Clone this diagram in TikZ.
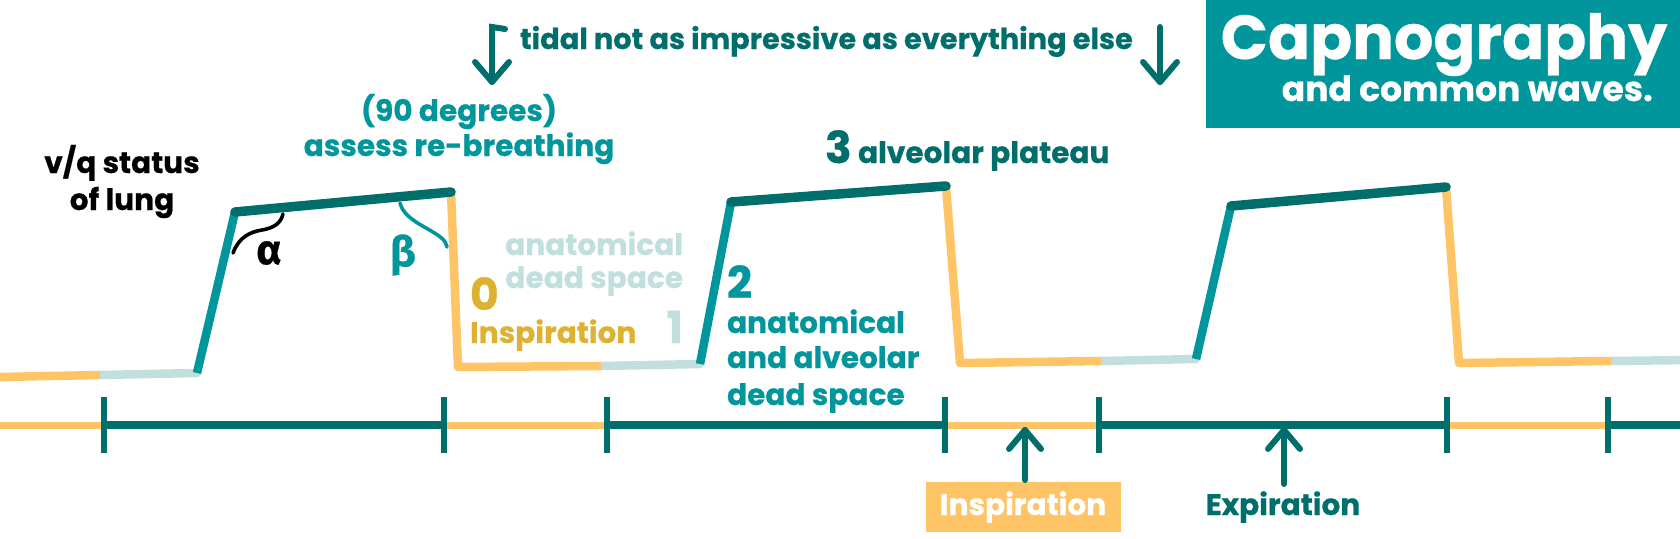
\documentclass[tikz,border=0pt]{standalone}
\usepackage{fontspec}
\setmainfont{Poppins}[BoldFeatures={FakeBold=0.6}]
\newfontfamily\grk{Fira Sans}[BoldFeatures={FakeBold=0.6}]
\definecolor{tealA}{HTML}{00969B}
\definecolor{tealD}{HTML}{006E6B}
\definecolor{orng}{HTML}{FFC466}
\definecolor{pale}{HTML}{C1DFDD}
\definecolor{ylw}{HTML}{DDB232}
\begin{document}
\begin{tikzpicture}[x=1pt,y=-1pt,
  lab/.style={inner sep=0pt, outer sep=0pt, font=\bfseries\fontsize{29.6}{36}\selectfont},
  num/.style={inner sep=0pt, outer sep=0pt, font=\bfseries\fontsize{44}{50}\selectfont},
  grk/.style={inner sep=0pt, outer sep=0pt, font=\grk\bfseries\fontsize{42}{46}\selectfont},
  grl/.style={line width=8.5pt, pale, line cap=round},
  orl/.style={line width=8.5pt, orng, line join=round, line cap=butt},
  risel/.style={line width=8.5pt, tealA, line cap=butt},
  platl/.style={line width=9.5pt, tealD, line cap=round},
  tlo/.style={line width=7pt, orng},
  tld/.style={line width=8pt, tealD},
  tck/.style={line width=5.5pt, tealD},
  arr/.style={line width=6pt, tealD, line cap=round, line join=round},
  angl/.style={line width=3.6pt, line cap=round}]
\useasboundingbox (0,0) rectangle (1680,538);

% title
\node[fill=tealA, minimum width=474pt, minimum height=128pt, inner sep=0pt, anchor=north west] (titlebox) at (1206,0) {};
\node[anchor=base, text=white, inner sep=0pt, font=\bfseries\fontsize{62}{62}\selectfont] (cap) at (1444,59) {Capnography};
\node[anchor=base east, text=white, inner sep=0pt, font=\bfseries\fontsize{34.5}{34}\selectfont] (sub) at (1653,101) {and common waves.};

% top note and arrows
\node[lab, text=tealD, anchor=base west, font=\bfseries\fontsize{28.8}{34}\selectfont] (tidal) at (520,49) {tidal not as impressive as everything else};
\coordinate (hk) at (505,29);
\coordinate (ta1) at (492,27);
\coordinate (tb1) at (492,82);
\draw[arr, line join=miter] (hk) -- (ta1) -- (tb1);
\draw[arr] (tb1) ++(-17,-20) -- (tb1) -- ++(17,-20);
\coordinate (ta2) at (1160,27);
\coordinate (tb2) at (1160,82);
\draw[arr] (ta2) -- (tb2);
\draw[arr] (tb2) ++(-17,-20) -- (tb2) -- ++(17,-20);

% waveform points
\coordinate (p0) at (0,377);
\coordinate (c1) at (100,375);
\coordinate (r1b) at (197,373);
\coordinate (r1t) at (235,212);
\coordinate (f1t) at (451,192);
\coordinate (f1b) at (458,367);
\coordinate (c2) at (601,366);
\coordinate (r2b) at (700,364);
\coordinate (r2t) at (731,202);
\coordinate (f2t) at (946,186);
\coordinate (f2b) at (960,363);
\coordinate (c3) at (1101,361);
\coordinate (r3b) at (1196,359);
\coordinate (r3t) at (1231,206);
\coordinate (f3t) at (1446,187);
\coordinate (f3b) at (1459,363);
\coordinate (c4) at (1611,361);
\coordinate (pe) at (1690,360);

\draw[grl] (c1) -- (r1b);
\draw[grl] (c2) -- (r2b);
\draw[grl] (c3) -- (r3b);
\draw[grl] (c4) -- (pe);
\draw[orl] (p0) -- (c1);
\draw[orl] (f1t) -- (f1b) -- (c2);
\draw[orl] (f2t) -- (f2b) -- (c3);
\draw[orl] (f3t) -- (f3b) -- (c4);
\draw[risel] (r1b) -- (r1t);
\draw[risel] (r2b) -- (r2t);
\draw[risel] (r3b) -- (r3t);
\draw[platl] (r1t) -- (f1t);
\draw[platl] (r2t) -- (f2t);
\draw[platl] (r3t) -- (f3t);

% angle marks
\draw[angl, black] (233,253) .. controls (239,237) and (250,232) .. (262,230) .. controls (274,228) and (281,223) .. (283,214);
\draw[angl, tealA] (400,203) .. controls (403,214) and (412,220) .. (426,228) .. controls (440,236) and (446,240) .. (447,247);
\node[grk, text=black] (alpha) at (269,253) {α};
\node[grk, text=tealA] (beta) at (403,255) {β};

% labels
\node[lab, text=tealA, anchor=base] (deg) at (459,121) {(90 degrees)};
\node[lab, text=tealA, anchor=base] (rebr) at (459,156) {assess re-breathing};
\node[lab, text=black, anchor=base] (vq1) at (122,173) {v/q status};
\node[lab, text=black, anchor=base] (vq2) at (122,210) {of lung};
\node[lab, text=pale, anchor=base east] (ads1) at (683,255) {anatomical};
\node[lab, text=pale, anchor=base east] (ads2) at (683,288) {dead space};
\node[num, text=ylw, anchor=base west] (n0) at (470,310) {0};
\node[lab, text=ylw, anchor=base west] (insp1) at (470,343) {Inspiration};
\node[num, text=pale, anchor=base east] (n1) at (683,343) {1};
\node[num, text=tealA, anchor=base west] (n2) at (727,298) {2};
\node[lab, text=tealA, anchor=base west] (aad1) at (727,333) {anatomical};
\node[lab, text=tealA, anchor=base west] (aad2) at (727,368) {and alveolar};
\node[lab, text=tealA, anchor=base west] (aad3) at (727,405) {dead space};
\node[num, text=tealD, anchor=base west] (n3) at (825,163) {3};
\node[lab, text=tealD, anchor=base west] (plat) at (858,163) {alveolar plateau};

% timeline
\coordinate (t0) at (-5,425);
\coordinate (t1) at (104,425);
\coordinate (t2) at (444,425);
\coordinate (t3) at (607,425);
\coordinate (t4) at (945,425);
\coordinate (t5) at (1099,425);
\coordinate (t6) at (1447,425);
\coordinate (t7) at (1608,425);
\coordinate (t8) at (1690,425);
\draw[tlo] (t0) -- (t1);
\draw[tlo] (t2) -- (t3);
\draw[tlo] (t4) -- (t5);
\draw[tlo] (t6) -- (t7);
\draw[tld] (t1) -- (t2);
\draw[tld] (t3) -- (t4);
\draw[tld] (t5) -- (t6);
\draw[tld] (t7) -- (t8);
\foreach \t in {t1,t2,t3,t4,t5,t6,t7}
  \draw[tck] (\t) ++(0,-28) -- ++(0,56);

% bottom labels
\node[fill=orng, minimum width=195pt, minimum height=50pt, inner sep=0pt, anchor=north west] (ibox) at (926,482) {};
\node[lab, text=white, anchor=base] (itext) at (1023,515) {Inspiration};
\coordinate (itip) at (1025,430);
\coordinate (ibot) at (1025,480);
\draw[arr] (ibot) -- (itip);
\draw[arr] (itip) ++(-16,19) -- (itip) -- ++(16,19);
\node[lab, text=tealD, anchor=base] (exp) at (1283,515) {Expiration};
\coordinate (etip) at (1284,430);
\coordinate (ebot) at (1284,484);
\draw[arr] (ebot) -- (etip);
\draw[arr] (etip) ++(-16,19) -- (etip) -- ++(16,19);
\end{tikzpicture}
\end{document}
